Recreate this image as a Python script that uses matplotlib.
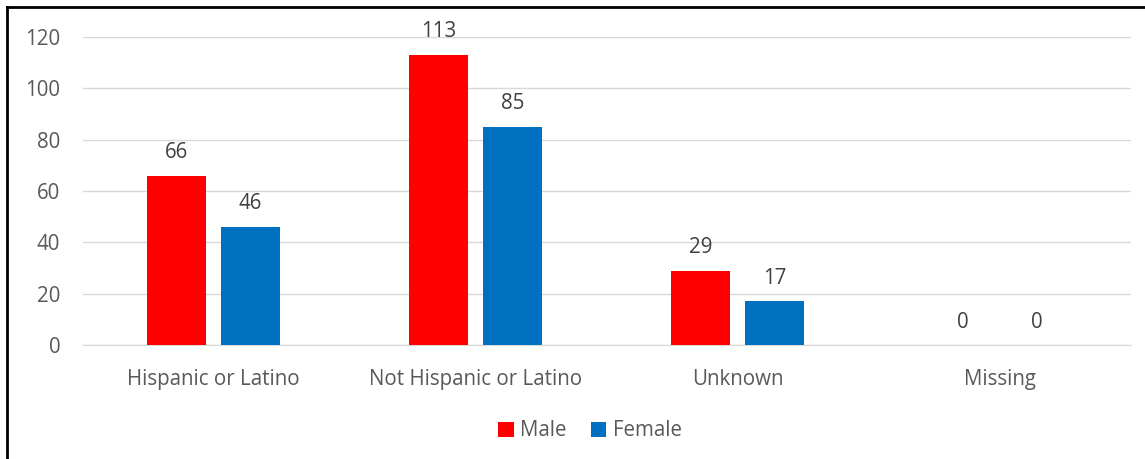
import matplotlib
matplotlib.use("Agg")
import matplotlib.pyplot as plt
from matplotlib.lines import Line2D
import numpy as np

categories = ["Hispanic or Latino", "Not Hispanic or Latino", "Unknown", "Missing"]
male = [66, 113, 29, 0]
female = [46, 85, 17, 0]
series_names = ["Male", "Female"]
colors = ["#FF0000", "#0070C0"]
yticks = [0, 20, 40, 60, 80, 100, 120]

plt.rcParams['font.family'] = ['Open Sans', 'DejaVu Sans']
txt = "#595959"
fs = 14.8

fig = plt.figure(figsize=(11.45, 4.59), dpi=100)
ax = fig.add_axes([82.5/1145, 1-345/459, (1130.5-82.5)/1145, (345-37)/459])

x = np.arange(len(categories))
w = 59/262
off = (59 + 15) / 2 / 262
for vals, c, name, sgn in [(male, colors[0], series_names[0], -1), (female, colors[1], series_names[1], 1)]:
    bars = ax.bar(x + sgn*off, vals, width=w, color=c, label=name, zorder=3)
    for b, v in zip(bars, vals):
        ax.annotate(str(v), (b.get_x()+b.get_width()/2, v), xytext=(0, 9),
                    textcoords="offset points", ha="center", va="bottom",
                    fontsize=fs, color="#404040")

ax.set_xlim(-0.5, 3.5)
ax.set_ylim(0, 120)
ax.set_yticks(yticks)
ax.set_xticks(x)
ax.set_xticklabels(categories)
ax.grid(axis="y", color="#D9D9D9", linewidth=1, zorder=0)
for s in ["top", "right", "left"]:
    ax.spines[s].set_visible(False)
ax.spines["bottom"].set_color("#D9D9D9")
ax.tick_params(axis="both", length=0, labelsize=fs, colors=txt)
ax.tick_params(axis="y", pad=16)
ax.tick_params(axis="x", pad=17)

ax.legend(loc="center", bbox_to_anchor=(590/1145, 1-431/459), bbox_transform=fig.transFigure,
          ncol=2, frameon=False, fontsize=fs, handlelength=0.75, handleheight=0.75,
          handletextpad=0.3, columnspacing=1.2, labelcolor=txt)

fig.add_artist(Line2D([7/1145, 7/1145], [0, 1-7/459], transform=fig.transFigure, color="black", linewidth=2))
fig.add_artist(Line2D([7/1145, 1], [1-7/459, 1-7/459], transform=fig.transFigure, color="black", linewidth=2))

fig.savefig("out.png", dpi=100)
